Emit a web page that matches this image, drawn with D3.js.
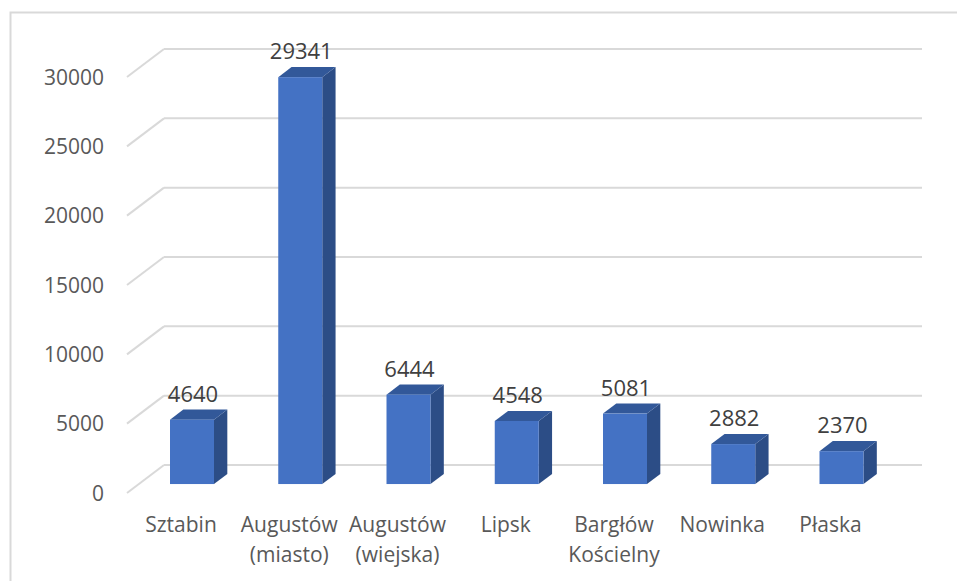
<!DOCTYPE html>
<html><head><meta charset="utf-8">
<script src="https://cdn.jsdelivr.net/npm/d3@7/dist/d3.min.js"></script>
<style>body{margin:0;background:#fff;}svg{display:block;}</style>
</head><body>
<svg id="c" width="957" height="581"></svg>
<script>
const categories = [["Sztabin"],["Augustów","(miasto)"],["Augustów","(wiejska)"],["Lipsk"],["Bargłów","Kościelny"],["Nowinka"],["Płaska"]];
const values = [4640, 29341, 6444, 4548, 5081, 2882, 2370];
const yTicks = [0, 5000, 10000, 15000, 20000, 25000, 30000];

const svg = d3.select("#c");
const font = "'Open Sans', sans-serif";
const textColor = "#595959";
const gridColor = "#d9d9d9";

// frame
svg.append("rect").attr("x",10.5).attr("y",12.5).attr("width",1000).attr("height",1000)
  .attr("fill","none").attr("stroke","#d9d9d9").attr("stroke-width",2);

// projection: front plane, depth vector
const depth = {dx:37, dy:-28};
const frontX0 = 127, backXEnd = 922;
const y = d3.scaleLinear().domain([0,30000]).range([493, 77]);
const dFront = 0.32, dBack = 0.68;

// gridlines
const grid = svg.append("g");
yTicks.forEach(t=>{
  grid.append("line").attr("x1",frontX0).attr("y1",y(t))
    .attr("x2",frontX0+depth.dx).attr("y2",y(t)+depth.dy)
    .attr("stroke",gridColor).attr("stroke-width",2);
  grid.append("line").attr("x1",frontX0+depth.dx).attr("y1",y(t)+depth.dy)
    .attr("x2",backXEnd).attr("y2",y(t)+depth.dy)
    .attr("stroke",gridColor).attr("stroke-width",2);
});

// y tick labels
svg.append("g").selectAll("text").data(yTicks).join("text")
  .attr("x",104).attr("y",d=>y(d)).attr("dy","0.36em")
  .attr("text-anchor","end").attr("font-family",font).attr("font-size",21)
  .attr("fill",textColor).text(d=>d);

// x scale for bar front-face centers
const names = categories.map(c=>c.join(" "));
const x = d3.scalePoint().domain(names).range([192, 841.5]);
const bw = 44;
const oy = depth.dy*dFront;
const sx = depth.dx*(dBack-dFront), sy = depth.dy*(dBack-dFront);

const bars = svg.append("g");
names.forEach((n,i)=>{
  const v = values[i];
  const cx = x(n);
  const x0 = cx - bw/2, x1 = cx + bw/2;
  const ytop = y(v) + oy, ybot = y(0) + oy;
  // side
  bars.append("path").attr("d",`M${x1},${ybot}L${x1+sx},${ybot+sy}L${x1+sx},${ytop+sy}L${x1},${ytop}Z`)
    .attr("fill","#2c4d86");
  // top
  bars.append("path").attr("d",`M${x0},${ytop}L${x0+sx},${ytop+sy}L${x1+sx},${ytop+sy}L${x1},${ytop}Z`)
    .attr("fill","#325899");
  // front
  bars.append("rect").attr("x",x0).attr("y",ytop).attr("width",bw).attr("height",ybot-ytop)
    .attr("fill","#4472C4");
  // value label
  bars.append("text").attr("x",cx+1).attr("y",ytop+sy-8)
    .attr("text-anchor","middle").attr("font-family",font).attr("font-size",22)
    .attr("fill","#404040").text(v);
});

// category labels
const cl = svg.append("g");
categories.forEach((c,i)=>{
  const t = cl.append("text").attr("text-anchor","middle").attr("font-family",font)
    .attr("font-size",21).attr("fill",textColor);
  c.forEach((line,j)=>{
    t.append("tspan").attr("x",x(names[i])-11).attr("y",532+j*30).text(line);
  });
});
</script>
</body></html>
